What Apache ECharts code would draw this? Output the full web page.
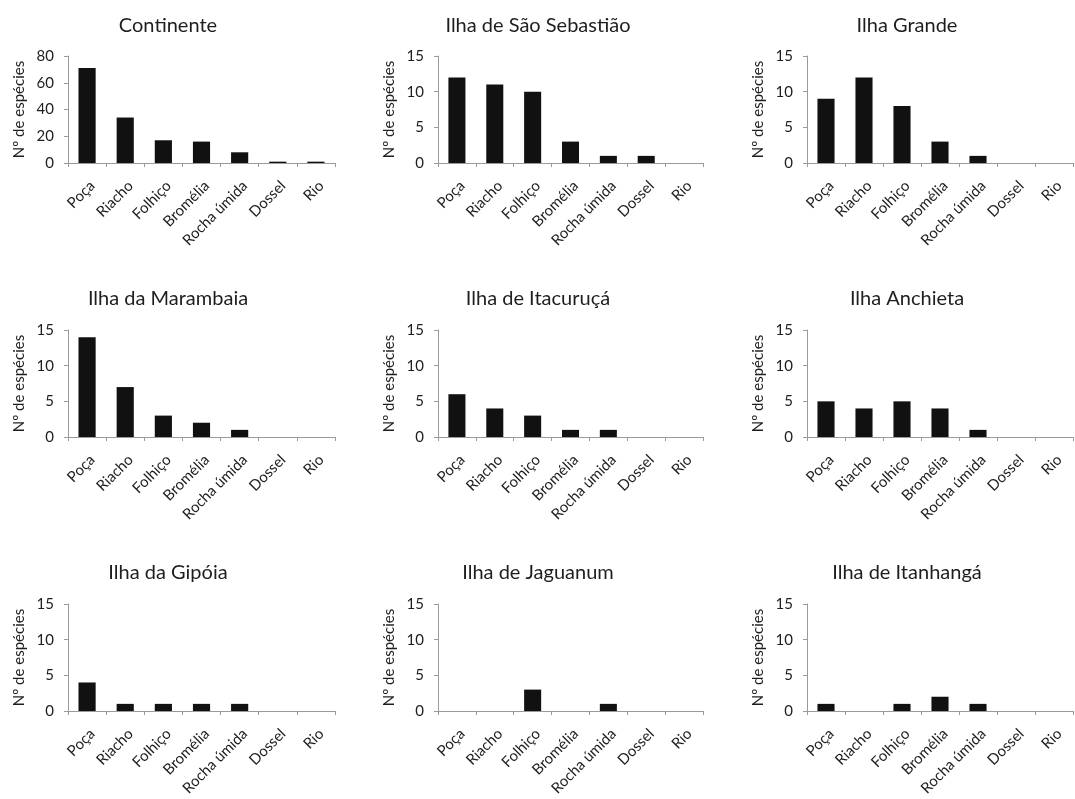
<!DOCTYPE html>
<html>
<head>
<meta charset="utf-8">
<script src="https://cdn.jsdelivr.net/npm/echarts@6/dist/echarts.min.js"></script>
<style>
  html, body { margin: 0; padding: 0; background: #ffffff; }
  #chart { width: 1075px; height: 799px; }
</style>
</head>
<body>
<div id="chart"></div>
<script>
// Habitats (x categories) shared by every panel
const categories = ['Poça', 'Riacho', 'Folhiço', 'Bromélia', 'Rocha úmida', 'Dossel', 'Rio'];

// Number of species per habitat, one array per locality
const continente   = [71, 34, 17, 16, 8, 1, 1];
const saoSebastiao = [12, 11, 10, 3, 1, 1, 0];
const ilhaGrande   = [9, 12, 8, 3, 1, 0, 0];
const marambaia    = [14, 7, 3, 2, 1, 0, 0];
const itacuruca    = [6, 4, 3, 1, 1, 0, 0];
const anchieta     = [5, 4, 5, 4, 1, 0, 0];
const gipoia       = [4, 1, 1, 1, 1, 0, 0];
const jaguanum     = [0, 0, 3, 0, 1, 0, 0];
const itanhanga    = [1, 0, 1, 2, 1, 0, 0];

// Panel titles, in reading order
const titles = [
  'Continente', 'Ilha de São Sebastião', 'Ilha Grande',
  'Ilha da Marambaia', 'Ilha de Itacuruçá', 'Ilha Anchieta',
  'Ilha da Gipóia', 'Ilha de Jaguanum', 'Ilha de Itanhangá'
];
const panelData = [
  continente, saoSebastiao, ilhaGrande,
  marambaia, itacuruca, anchieta,
  gipoia, jaguanum, itanhanga
];

// Y-axis scales: the mainland panel runs to 80, islands to 15
const yMax      = [80, 15, 15, 15, 15, 15, 15, 15, 15];
const yInterval = [20, 5, 5, 5, 5, 5, 5, 5, 5];
const yAxisName = 'Nº de espécies';

// Panel geometry (pixels)
const colLeft  = [68, 438, 807];
const colWidth = [267, 265, 266];
const rowTop   = [56, 330, 604];
const plotH    = 107;
const titleCx  = [168, 538, 907];
const titleCy  = [25, 298, 572];

const FONT = 'Lato, "Open Sans", sans-serif';
const TEXT = '#1e1e1e';
const AXIS = '#9a9a9a';

const grid = [], xAxis = [], yAxis = [], series = [], title = [];

panelData.forEach((vals, i) => {
  const r = Math.floor(i / 3), c = i % 3;
  grid.push({
    left: colLeft[c], top: rowTop[r], width: colWidth[c], height: plotH,
    containLabel: false
  });
  title.push({
    text: titles[i],
    left: titleCx[c], top: titleCy[r] - 9,
    textAlign: 'center',
    padding: 0,
    textStyle: { fontFamily: FONT, fontSize: 20, fontWeight: 'normal', color: TEXT }
  });
  xAxis.push({
    type: 'category', gridIndex: i, data: categories,
    boundaryGap: true,
    axisLine: { show: true, lineStyle: { color: AXIS, width: 1 } },
    axisTick: { show: true, length: 4, lineStyle: { color: AXIS } },
    axisLabel: {
      interval: 0, rotate: 45, margin: 15, verticalAlign: 'top',
      fontFamily: FONT, fontSize: 15, color: TEXT
    }
  });
  yAxis.push({
    type: 'value', gridIndex: i, min: 0, max: yMax[i], interval: yInterval[i],
    name: yAxisName, nameLocation: 'middle', nameGap: 41, nameRotate: 90,
    nameTextStyle: { fontFamily: FONT, fontSize: 15, color: TEXT },
    axisLine: { show: true, lineStyle: { color: AXIS, width: 1 } },
    axisTick: { show: true, length: 4, lineStyle: { color: AXIS } },
    splitLine: { show: false },
    axisLabel: { fontFamily: FONT, fontSize: 15, color: TEXT, margin: 14 }
  });
  series.push({
    type: 'bar', xAxisIndex: i, yAxisIndex: i, data: vals,
    barWidth: '45%',
    itemStyle: { color: '#111111' },
    silent: true
  });
});

const chart = echarts.init(document.getElementById('chart'), null, { renderer: 'canvas' });
chart.setOption({
  backgroundColor: '#ffffff',
  animation: false,
  title, grid, xAxis, yAxis, series
});
</script>
</body>
</html>
